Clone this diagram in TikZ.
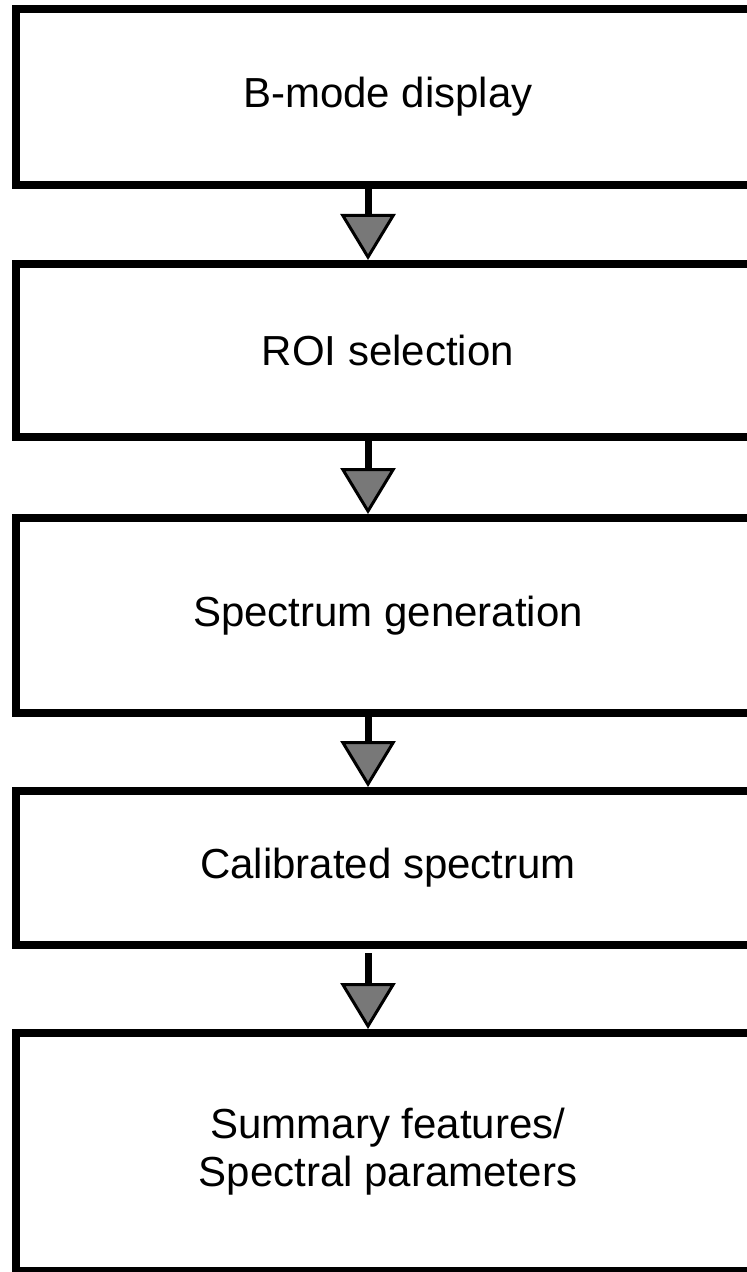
\documentclass[tikz,border=0pt]{standalone}
\usepackage{fontspec}
\setmainfont{Liberation Sans}
\usetikzlibrary{arrows.meta}
\definecolor{tipgray}{gray}{0.47}
\begin{document}
\begin{tikzpicture}[x=0.5pt,y=-0.5pt,
  stagebox/.style={draw,line width=4pt,minimum width=372pt,inner sep=0pt,align=center,font=\fontsize{21}{24}\selectfont},
  flowarrow/.style={line width=3.5pt,-{Triangle[width=27.5pt,length=23pt,fill=tipgray,line width=1.5pt]}}]
\useasboundingbox (0,0) rectangle (746,1272);
\node[stagebox,minimum height=88pt] (display) at (388,97) {B-mode display};
\node[stagebox,minimum height=86.5pt] (roi) at (388,350.5) {ROI selection};
\node[stagebox,minimum height=97.5pt] (spectrum) at (388,615.5) {Spectrum generation};
\node[stagebox,minimum height=77pt] (calibrated) at (388,868) {Calibrated spectrum};
\node[stagebox,minimum height=119pt] (summary) at (388,1152) {Summary features/\\Spectral parameters};
\draw[flowarrow] ([xshift=-10pt]display.south) -- ([xshift=-10pt]roi.north);
\draw[flowarrow] ([xshift=-10pt]roi.south) -- ([xshift=-10pt]spectrum.north);
\draw[flowarrow] ([xshift=-10pt]spectrum.south) -- ([xshift=-10pt]calibrated.north);
\draw[flowarrow,shorten <=2pt] ([xshift=-10pt]calibrated.south) -- ([xshift=-10pt]summary.north);
\end{tikzpicture}
\end{document}
